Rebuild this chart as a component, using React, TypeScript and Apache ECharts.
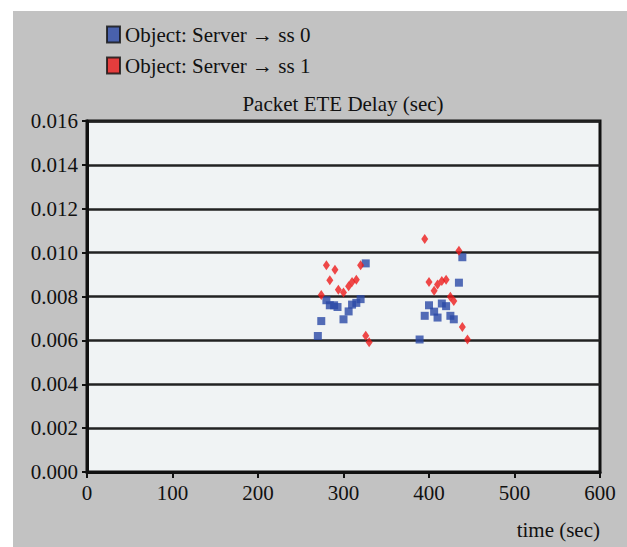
import React, { useEffect, useRef } from "react";
import * as echarts from "echarts";

const seriesNames = ["Object: Server \u2192 ss 0", "Object: Server \u2192 ss 1"];
const chartTitle = "Packet ETE Delay (sec)";
const xAxisTitle = "time (sec)";

// ss 0 (blue squares): [time, delay]
const ss0Times = [270, 274, 280, 284, 289, 293, 300, 306, 310, 315, 320, 326, 389, 395, 400, 406, 410, 415, 420, 425, 429, 435, 439];
const ss0Delays = [0.0062, 0.00688, 0.00783, 0.0076, 0.0076, 0.00752, 0.00696, 0.00732, 0.00763, 0.00771, 0.00788, 0.00951, 0.00604, 0.00712, 0.0076, 0.00731, 0.00704, 0.00768, 0.00756, 0.00712, 0.00696, 0.00863, 0.00979];

// ss 1 (red diamonds)
const ss1Times = [274, 280, 284, 290, 294, 300, 306, 310, 315, 320, 326, 330, 395, 400, 406, 410, 415, 420, 425, 429, 435, 439, 445];
const ss1Delays = [0.00807, 0.00943, 0.00874, 0.00922, 0.00831, 0.00818, 0.00847, 0.00866, 0.00876, 0.00943, 0.00621, 0.00592, 0.01062, 0.00866, 0.00826, 0.00855, 0.00871, 0.00876, 0.00799, 0.0078, 0.01009, 0.00661, 0.00604];

const FONT = "Liberation Serif";

export default function App() {
  const ref = useRef<HTMLDivElement>(null);
  useEffect(() => {
    if (!ref.current) return;
    const chart = echarts.init(ref.current, undefined, { renderer: "svg" });
    const ss0 = ss0Times.map((t, i) => [t, ss0Delays[i]]);
    const ss1 = ss1Times.map((t, i) => [t, ss1Delays[i]]);
    chart.setOption({
      animation: false,
      backgroundColor: "#ffffff",
      graphic: [
        {
          type: "rect",
          z: -10,
          shape: { x: 13, y: 11, width: 614, height: 536 },
          style: { fill: "#c2c2c2" },
          silent: true,
        },
        {
          type: "text",
          x: 343,
          y: 104,
          style: {
            text: chartTitle,
            fontFamily: FONT,
            fontSize: 21,
            fill: "#111",
            align: "center",
            verticalAlign: "middle",
          },
        },
        {
          type: "text",
          x: 600,
          y: 530,
          style: {
            text: xAxisTitle,
            fontFamily: FONT,
            fontSize: 21,
            fill: "#111",
            align: "right",
            verticalAlign: "middle",
          },
        },
      ],
      legend: {
        orient: "vertical",
        left: 101,
        top: 19,
        itemWidth: 13,
        itemHeight: 16,
        itemGap: 10,
        textStyle: { fontFamily: FONT, fontSize: 21, color: "#111" },
        data: [
          { name: seriesNames[0], icon: "rect", itemStyle: { color: "#2b48a6", borderColor: "#111", borderWidth: 2 } },
          { name: seriesNames[1], icon: "rect", itemStyle: { color: "#ee1c1c", borderColor: "#111", borderWidth: 2 } },
        ],
      },
      grid: {
        left: 87,
        right: 27,
        top: 121,
        bottom: 75,
        show: true,
        backgroundColor: "#f0f3f4",
        borderColor: "#111",
        borderWidth: 3,
      },
      xAxis: {
        type: "value",
        min: 0,
        max: 600,
        interval: 100,
        axisLine: { show: true, lineStyle: { color: "#111", width: 3 } },
        axisTick: { show: true, inside: false, length: 6, lineStyle: { color: "#111", width: 2 } },
        axisLabel: { fontFamily: FONT, fontSize: 21, color: "#111", margin: 10 },
        splitLine: { show: false },
      },
      yAxis: {
        type: "value",
        min: 0,
        max: 0.016,
        interval: 0.002,
        axisLine: { show: true, lineStyle: { color: "#111", width: 3 } },
        axisTick: { show: true, inside: false, length: 5, lineStyle: { color: "#111", width: 2 } },
        axisLabel: {
          fontFamily: FONT,
          fontSize: 21,
          color: "#111",
          margin: 9,
          formatter: (v: number) => v.toFixed(3),
        },
        splitLine: { show: true, lineStyle: { color: "#222", width: 2.5 } },
      },
      series: [
        {
          name: seriesNames[0],
          type: "scatter",
          symbol: "rect",
          symbolSize: [8, 8],
          itemStyle: { color: "#2b48a6" },
          data: ss0,
          z: 3,
        },
        {
          name: seriesNames[1],
          type: "scatter",
          symbol: "diamond",
          symbolSize: [7, 10],
          itemStyle: { color: "#ee1c1c" },
          data: ss1,
          z: 4,
        },
      ],
    });
    return () => chart.dispose();
  }, []);
  return (
    <div
      ref={ref}
      style={{ position: "absolute", left: 0, top: 0, width: 627, height: 547 }}
    />
  );
}
